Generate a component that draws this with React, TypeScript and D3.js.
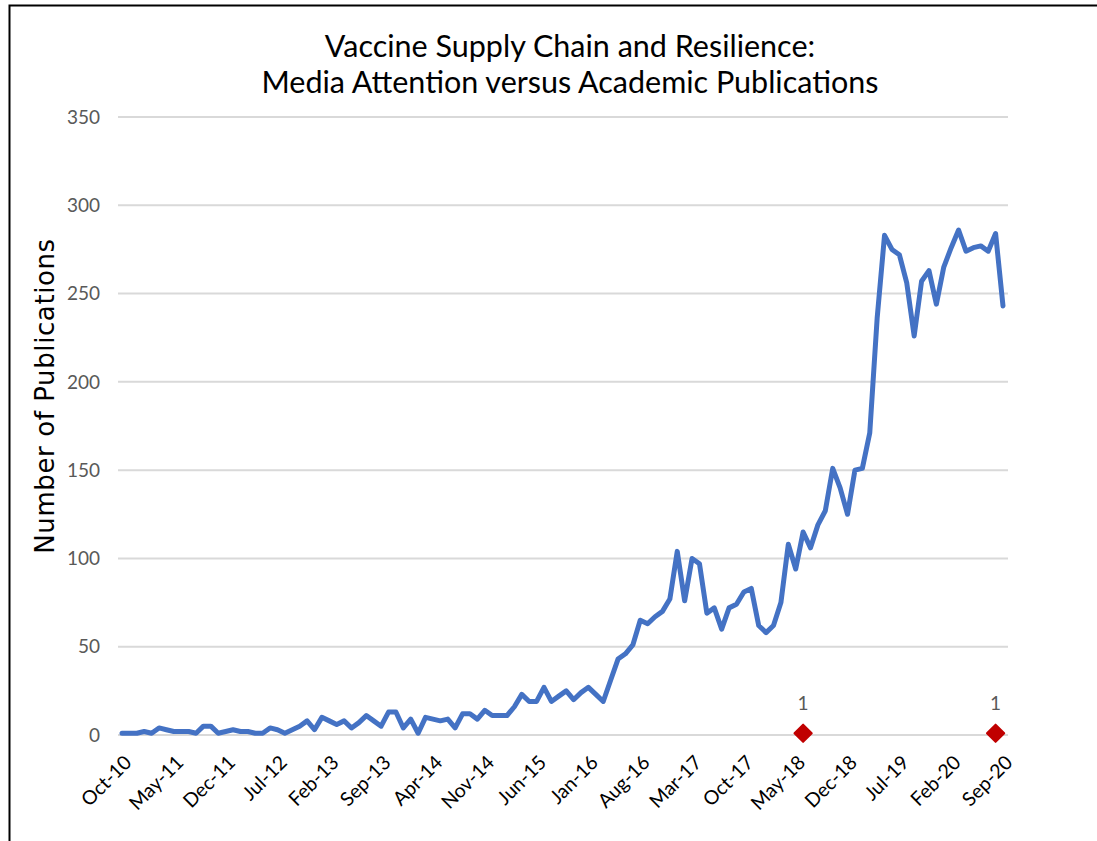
import * as d3 from "d3";
import { useEffect, useRef } from "react";

// monthly academic publications, Oct-10 .. Sep-20
const publications = [
  1, 1, 1, 2, 1, 4, 3, 2, 2, 2, 1, 5, 5, 1, 2, 3, 2, 2, 1, 1, 4, 3, 1, 3,
  5, 8, 3, 10, 8, 6, 8, 4, 7, 11, 8, 5, 13, 13, 4, 9, 1, 10, 9, 8, 9, 4, 12, 12,
  9, 14, 11, 11, 11, 16, 23, 19, 19, 27, 19, 22, 25, 20, 24, 27, 23, 19, 31, 43, 46, 51,
  65, 63, 67, 70, 77, 104, 76, 100, 97, 69, 72, 60, 72, 74, 81, 83, 62, 58, 62, 75,
  108, 94, 115, 106, 119, 127, 151, 140, 125, 150, 151, 171, 236, 283, 275, 272, 256, 226, 257, 263,
  244, 265, 276, 286, 274, 276, 277, 274, 284, 243,
];

// media attention points
const mediaMonths = ["Jun-18", "Aug-20"];
const mediaValues = [1, 1];

const tickLabels = [
  "Oct-10", "May-11", "Dec-11", "Jul-12", "Feb-13", "Sep-13", "Apr-14", "Nov-14", "Jun-15",
  "Jan-16", "Aug-16", "Mar-17", "Oct-17", "May-18", "Dec-18", "Jul-19", "Feb-20", "Sep-20",
];
const yTicks = [0, 50, 100, 150, 200, 250, 300, 350];

const fmt = d3.timeFormat("%b-%y");
const months = d3.timeMonth
  .range(new Date(2010, 9, 1), new Date(2020, 9, 1))
  .map((d) => fmt(d));

export default function App() {
  const svgRef = useRef(null);
  const width = 1097;
  const height = 841;

  useEffect(() => {
    const svg = d3.select(svgRef.current);
    svg.selectAll("*").remove();

    const x = d3.scalePoint().domain(months).range([122, 1003]);
    const y = d3.scaleLinear().domain([0, 350]).range([735, 117]);

    // frame
    svg.append("path")
      .attr("d", `M9.5,${height} L9.5,5.5 L${width},5.5`)
      .attr("fill", "none")
      .attr("stroke", "#000")
      .attr("stroke-width", 2);

    // gridlines
    svg.append("g")
      .selectAll("line")
      .data(yTicks)
      .enter()
      .append("line")
      .attr("x1", 118)
      .attr("x2", 1008)
      .attr("y1", (d) => y(d))
      .attr("y2", (d) => y(d))
      .attr("stroke", "#d9d9d9")
      .attr("stroke-width", 2);

    // y tick labels
    svg.append("g")
      .selectAll("text")
      .data(yTicks)
      .enter()
      .append("text")
      .attr("x", 100)
      .attr("y", (d) => y(d))
      .attr("dy", "0.35em")
      .attr("text-anchor", "end")
      .attr("font-family", "Lato, sans-serif")
      .attr("font-size", 19)
      .attr("fill", "#595959")
      .text((d) => d);

    // x tick labels
    svg.append("g")
      .selectAll("text")
      .data(tickLabels)
      .enter()
      .append("text")
      .attr("transform", (d) => `translate(${(x(d) || 0) + 6},${759}) rotate(-45)`)
      .attr("text-anchor", "end")
      .attr("dy", "0.35em")
      .attr("font-family", "Lato, sans-serif")
      .attr("font-size", 19.5)
      .attr("fill", "#000")
      .text((d) => d);

    // publications line
    const line = d3
      .line<number>()
      .x((_, i) => x(months[i]) || 0)
      .y((d) => y(d));
    svg.append("path")
      .datum(publications)
      .attr("d", line)
      .attr("fill", "none")
      .attr("stroke", "#4472c4")
      .attr("stroke-width", 5)
      .attr("stroke-linejoin", "round")
      .attr("stroke-linecap", "round");

    // media attention markers
    const media = mediaMonths.map((m, i) => ({ m, v: mediaValues[i] }));
    svg.append("g")
      .selectAll("path")
      .data(media)
      .enter()
      .append("path")
      .attr("transform", (d) => `translate(${x(d.m)},${y(d.v)})`)
      .attr("d", d3.symbol(d3.symbolDiamond2, 190)())
      .attr("fill", "#c00000")
      .attr("stroke", "#c00000")
      .attr("stroke-width", 2)
      .attr("stroke-linejoin", "round");
    svg.append("g")
      .selectAll("text")
      .data(media)
      .enter()
      .append("text")
      .attr("x", (d) => x(d.m) || 0)
      .attr("y", (d) => y(d.v) - 23)
      .attr("text-anchor", "middle")
      .attr("font-family", "Lato, sans-serif")
      .attr("font-size", 19)
      .attr("fill", "#595959")
      .text((d) => d.v);

    // title
    const title = svg.append("text")
      .attr("text-anchor", "middle")
      .attr("font-family", "Lato, sans-serif")
      .attr("font-size", 30.5)
      .attr("fill", "#000");
    title.append("tspan").attr("x", 570).attr("y", 57).text("Vaccine Supply Chain and Resilience:");
    title.append("tspan").attr("x", 570).attr("y", 93).text("Media Attention versus Academic Publications");

    // y axis title
    svg.append("text")
      .attr("transform", `translate(54,396) rotate(-90)`)
      .attr("text-anchor", "middle")
      .attr("font-family", "'DejaVu Sans', sans-serif")
      .attr("font-size", 26)
      .attr("letter-spacing", 0.6)
      .attr("fill", "#000")
      .text("Number of Publications");
  }, []);

  return (
    <svg
      ref={svgRef}
      width={width}
      height={height}
      style={{ position: "absolute", left: 0, top: 0, background: "#fff" }}
    ></svg>
  );
}
